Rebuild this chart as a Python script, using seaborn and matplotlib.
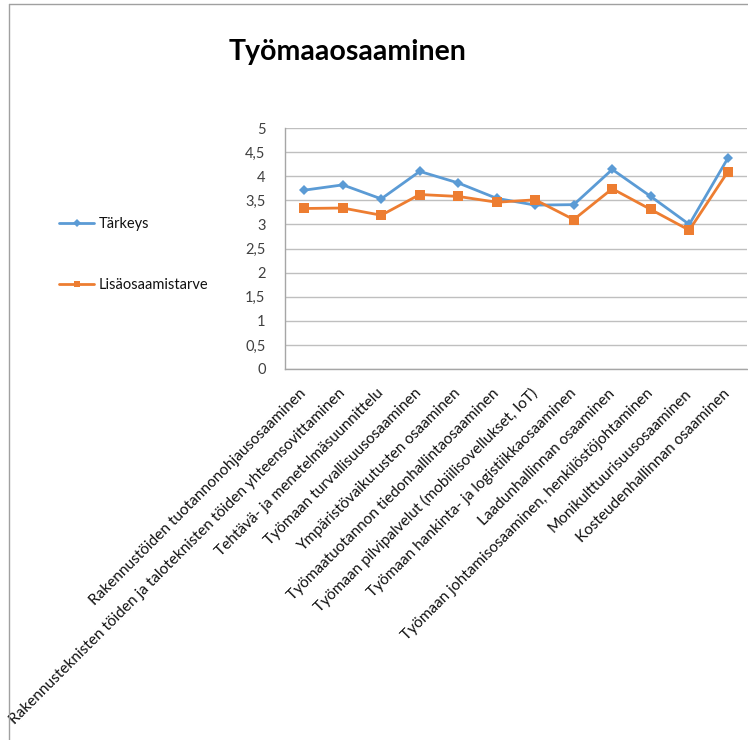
import matplotlib
matplotlib.use("Agg")
import matplotlib.pyplot as plt
from matplotlib.lines import Line2D
import seaborn as sns
import pandas as pd

kategoriat = [
    "Rakennustöiden tuotannonohjausosaaminen",
    "Rakennusteknisten töiden ja taloteknisten töiden yhteensovittaminen",
    "Tehtävä- ja menetelmäsuunnittelu",
    "Työmaan turvallisuusosaaminen",
    "Ympäristövaikutusten osaaminen",
    "Työmaatuotannon tiedonhallintaosaaminen",
    "Työmaan pilvipalvelut (mobiilisovellukset, IoT)",
    "Työmaan hankinta- ja logistiikkaosaaminen",
    "Laadunhallinnan osaaminen",
    "Työmaan johtamisosaaminen, henkilöstöjohtaminen",
    "Monikulttuurisuusosaaminen",
    "Kosteudenhallinnan osaaminen",
]
tarkeys = [3.71, 3.82, 3.53, 4.10, 3.86, 3.54, 3.40, 3.41, 4.14, 3.58, 3.00, 4.37]
lisaosaamistarve = [3.33, 3.34, 3.19, 3.62, 3.58, 3.46, 3.51, 3.10, 3.74, 3.31, 2.88, 4.09]
y_tikit = [0, 0.5, 1, 1.5, 2, 2.5, 3, 3.5, 4, 4.5, 5]
y_tikkitekstit = ["0", "0,5", "1", "1,5", "2", "2,5", "3", "3,5", "4", "4,5", "5"]

sns.set_theme(style="white")
plt.rcParams["font.family"] = ["Lato", "DejaVu Sans"]

df = pd.DataFrame({"kategoria": kategoriat,
                   "Tärkeys": tarkeys,
                   "Lisäosaamistarve": lisaosaamistarve})
pitka = df.melt(id_vars="kategoria", var_name="sarja", value_name="arvo")

fig = plt.figure(figsize=(7.48, 7.40), dpi=100)
ax = fig.add_axes([285 / 748, 1 - 369 / 740, (747 - 285) / 748, (369 - 128) / 740])

sns.lineplot(data=pitka, x="kategoria", y="arvo", hue="sarja", style="sarja",
             markers={"Tärkeys": "D", "Lisäosaamistarve": "s"}, dashes=False,
             palette={"Tärkeys": "#5B9BD5", "Lisäosaamistarve": "#ED7D31"},
             sort=False, linewidth=2.0, markeredgewidth=0,
             ax=ax, legend=False)
for ln, ms in zip(ax.lines, [5.0, 6.5]):
    ln.set_markersize(ms)

ax.set_xlim(-0.5, len(kategoriat) - 0.5)
ax.set_ylim(0, 5)
ax.set_yticks(y_tikit)
ax.set_yticklabels(y_tikkitekstit, fontsize=10.5, color="#404040")
ax.set_xticks(range(len(kategoriat)))
ax.set_xticklabels(kategoriat, rotation=45, ha="right", va="center",
                   rotation_mode="anchor", fontsize=11.1, color="#111111")
ax.tick_params(axis="x", length=0, pad=16)
ax.tick_params(axis="y", length=0, pad=14)
ax.set_xlabel("")
ax.set_ylabel("")
ax.yaxis.grid(True, color="#BFBFBF", linewidth=1.0)
ax.xaxis.grid(False)
for side in ["top", "right"]:
    ax.spines[side].set_visible(False)
for side in ["left", "bottom"]:
    ax.spines[side].set_color("#A6A6A6")
    ax.spines[side].set_linewidth(1.0)

kahvat = [
    Line2D([], [], color="#5B9BD5", marker="D", markersize=4, linewidth=2.0, markeredgewidth=0),
    Line2D([], [], color="#ED7D31", marker="s", markersize=5, linewidth=2.0, markeredgewidth=0),
]
fig.legend(kahvat, ["Tärkeys", "Lisäosaamistarve"], loc="upper left",
           bbox_to_anchor=(46 / 748, 1 - 204 / 740), frameon=False,
           fontsize=10.5, handlelength=2.4, handletextpad=0.3, labelspacing=3.2,
           labelcolor="#111111")

fig.text(348 / 748, 1 - 52 / 740, "Työmaaosaaminen", ha="center", va="center",
         fontsize=20.5, fontweight="bold", color="#000000")

# outer chart frame (top and left edges)
fig.add_artist(Line2D([9 / 748, 1.0], [1 - 4 / 740, 1 - 4 / 740],
                      transform=fig.transFigure, color="#A0A0A0", linewidth=1.0))
fig.add_artist(Line2D([9 / 748, 9 / 748], [1 - 4 / 740, 0.0],
                      transform=fig.transFigure, color="#A0A0A0", linewidth=1.0))

fig.savefig("out.png", dpi=100)
